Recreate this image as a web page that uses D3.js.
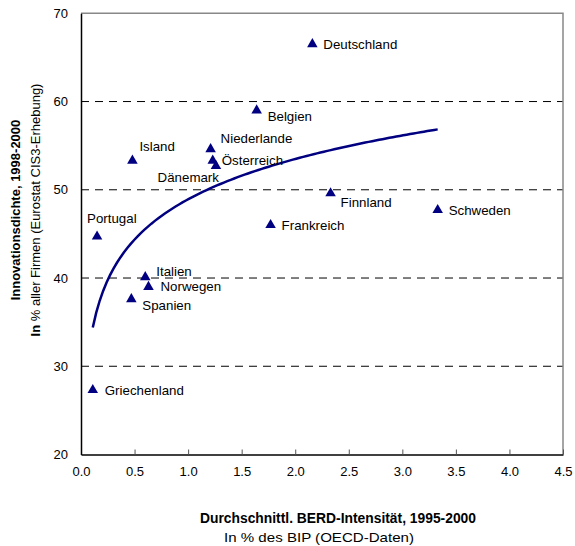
<!DOCTYPE html>
<html>
<head>
<meta charset="utf-8">
<script src="https://cdn.jsdelivr.net/npm/d3@7"></script>
<style>
  body { margin: 0; background: #fff; }
  svg { font-family: "Liberation Sans", Arial, sans-serif; }
</style>
</head>
<body>
<script>
const width = 575;
const height = 546;

// data
const countries = ['Deutschland', 'Belgien', 'Niederlande', 'Österreich', 'Dänemark', 'Island', 'Portugal',
    'Frankreich', 'Finnland', 'Schweden', 'Italien', 'Norwegen', 'Spanien', 'Griechenland'];
const berd = [2.16, 1.64, 1.21, 1.23, 1.26, 0.48, 0.15, 1.77, 2.33, 3.33, 0.60, 0.63, 0.47, 0.11];
const innovation = [66.5, 59.0, 54.6, 53.3, 52.7, 53.3, 44.7, 46.0, 49.6, 47.7, 40.1, 39.0, 37.6, 27.3];
const xTicks = [0, 0.5, 1, 1.5, 2, 2.5, 3, 3.5, 4, 4.5];
const yTicks = [20, 30, 40, 50, 60, 70];
const gridValues = [30, 40, 50, 60];

// label placement (pixels from the marker)
const labelOffsets = {
    'Deutschland': [11, 0], 'Belgien': [11, 6], 'Niederlande': [10, -11], 'Österreich': [9, 0],
    'Dänemark': [3, 11, 'end'], 'Island': [7, -14], 'Portugal': [-10, -18], 'Frankreich': [11, 0],
    'Finnland': [10, 9], 'Schweden': [11, 0], 'Italien': [11, -6], 'Norwegen': [12, 0],
    'Spanien': [11, 6], 'Griechenland': [12, 0]
};

const points = countries.map((c, i) => ({ name: c, x: berd[i], y: innovation[i] }));

const svg = d3.select('body')
    .append('svg')
    .attr('width', width)
    .attr('height', height);

const plotLeft = 81, plotRight = 563, plotTop = 13.3, plotBottom = 454.5;

const x = d3.scaleLinear().domain([0, 4.5]).range([plotLeft, plotRight]);
const y = d3.scaleLinear().domain([20, 70]).range([plotBottom, plotTop]);

// gridlines
svg.selectAll('.grid')
    .data(gridValues)
    .join('line')
    .attr('x1', plotLeft).attr('x2', plotRight)
    .attr('y1', d => y(d)).attr('y2', d => y(d))
    .attr('stroke', '#000')
    .attr('stroke-width', 1)
    .attr('stroke-dasharray', '8,6');

// frame: top and right grey
svg.append('path')
    .attr('d', `M${plotLeft},${plotTop}H${plotRight}V${plotBottom}`)
    .attr('fill', 'none')
    .attr('stroke', '#888')
    .attr('stroke-width', 1.5);

// x axis
const xAxis = svg.append('g')
    .attr('transform', `translate(0,${plotBottom})`)
    .call(d3.axisBottom(x).tickValues(xTicks).tickFormat(d3.format('.1f')).tickSizeInner(-5).tickSizeOuter(0).tickPadding(12));
xAxis.select('.domain').attr('stroke', '#000').attr('stroke-width', 1.5);
xAxis.selectAll('.tick line').attr('stroke', '#555');
xAxis.selectAll('text').attr('font-size', 13).attr('fill', '#000');

// y axis
const yAxis = svg.append('g')
    .attr('transform', `translate(${plotLeft},0)`)
    .call(d3.axisLeft(y).tickValues(yTicks).tickSize(0).tickPadding(13));
yAxis.select('.domain').attr('stroke', '#000').attr('stroke-width', 1.5);
yAxis.selectAll('text').attr('font-size', 13).attr('fill', '#000');

// logarithmic trend fitted to the points
const lx = berd.map(Math.log);
const mx = d3.mean(lx), my = d3.mean(innovation);
const b = d3.sum(lx, (v, i) => (v - mx) * (innovation[i] - my)) / d3.sum(lx, v => (v - mx) * (v - mx));
const a = my - b * mx;
const [xmin, xmax] = d3.extent(berd);
const trend = d3.range(0, 101).map(i => {
    const xv = xmin + (xmax - xmin) * i / 100;
    return [xv, a + b * Math.log(xv)];
});

svg.append('path')
    .datum(trend)
    .attr('d', d3.line().x(d => x(d[0])).y(d => y(d[1])))
    .attr('fill', 'none')
    .attr('stroke', '#000080')
    .attr('stroke-width', 2.5);

// markers
svg.selectAll('.marker')
    .data(points)
    .join('path')
    .attr('class', 'marker')
    .attr('transform', d => `translate(${x(d.x)},${y(d.y)})`)
    .attr('d', d3.symbol(d3.symbolTriangle, 48))
    .attr('fill', '#000080');

svg.selectAll('.label')
    .data(points)
    .join('text')
    .attr('class', 'label')
    .attr('x', d => x(d.x) + labelOffsets[d.name][0])
    .attr('y', d => y(d.y) + labelOffsets[d.name][1])
    .attr('dy', '0.35em')
    .attr('text-anchor', d => labelOffsets[d.name][2] || 'start')
    .attr('font-size', 13.3)
    .text(d => d.name);

// axis titles
svg.append('text')
    .attr('transform', 'translate(20,210) rotate(-90)')
    .attr('text-anchor', 'middle')
    .attr('font-size', 13)
    .attr('font-weight', 'bold')
    .text('Innovationsdichte, 1998-2000');

const yt2 = svg.append('text')
    .attr('transform', 'translate(40,210) rotate(-90)')
    .attr('text-anchor', 'middle')
    .attr('font-size', 13);
yt2.append('tspan').attr('font-weight', 'bold').text('In');
yt2.append('tspan').text(' % aller Firmen (Eurostat CIS3-Erhebung)');

svg.append('text')
    .attr('x', 200).attr('y', 523)
    .attr('font-size', 14)
    .attr('font-weight', 'bold')
    .attr('textLength', 276)
    .attr('lengthAdjust', 'spacingAndGlyphs')
    .text('Durchschnittl. BERD-Intensität, 1995-2000');

svg.append('text')
    .attr('x', 224).attr('y', 542)
    .attr('font-size', 13.5)
    .attr('textLength', 190)
    .attr('lengthAdjust', 'spacingAndGlyphs')
    .text('In % des BIP (OECD-Daten)');
</script>
</body>
</html>
